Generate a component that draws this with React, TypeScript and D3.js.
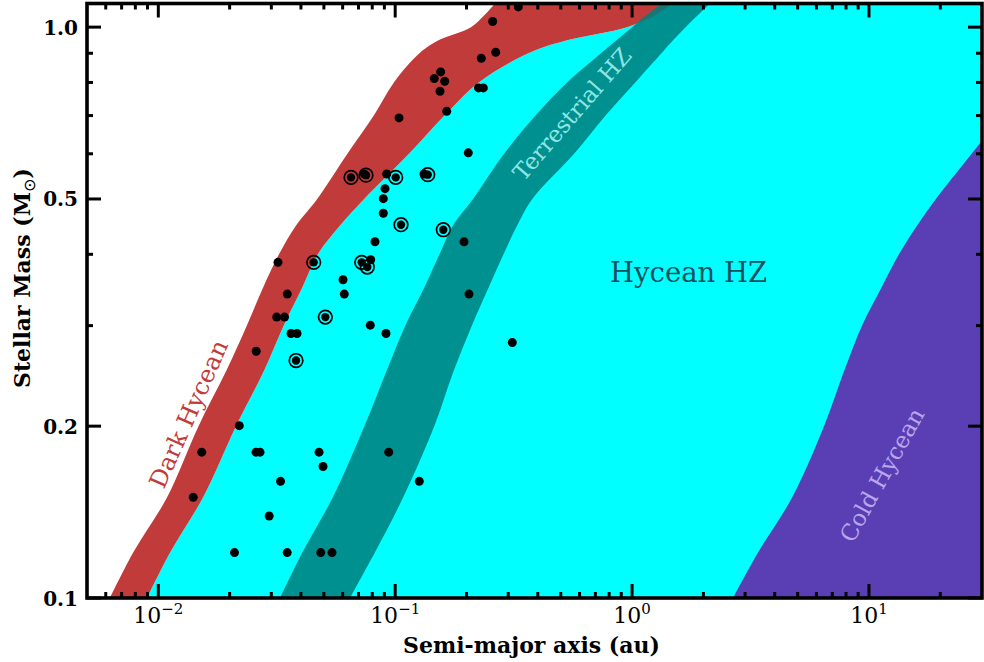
import React from 'react';
import * as d3 from 'd3';

// Stellar mass grid (M_sun) on which the zone boundaries are sampled
const massGrid = [0.1, 0.12, 0.15, 0.2, 0.25, 0.3, 0.35, 0.4, 0.45, 0.5, 0.6, 0.7, 0.8, 0.9, 0.95, 1.0, 1.05, 1.1];
// Semi-major axis (au) of each boundary at the masses above
const darkHyceanInner = [0.00625, 0.00782, 0.01088, 0.01478, 0.01936, 0.02363, 0.0277, 0.03232, 0.03828, 0.04686, 0.06285, 0.08122, 0.09874, 0.1266, 0.1538, 0.2089, 0.2383, 0.2638];
const hyceanInner = [0.00896, 0.0112, 0.01544, 0.02128, 0.02794, 0.03381, 0.04054, 0.04714, 0.05876, 0.07397, 0.1143, 0.1615, 0.2254, 0.3653, 0.5417, 0.9517, 1.262, 1.474];
const terrestrialInner = [0.03264, 0.0405, 0.05446, 0.07412, 0.09199, 0.1102, 0.1327, 0.1538, 0.1758, 0.213, 0.288, 0.391, 0.5313, 0.7392, 0.8636, 1.001, 1.15, 1.337];
const terrestrialOuter = [0.06445, 0.08193, 0.108, 0.1462, 0.1766, 0.2106, 0.248, 0.2866, 0.328, 0.3791, 0.5692, 0.773, 1.031, 1.331, 1.496, 1.682, 1.898, 2.133];
const coldHyceanInner = [2.667, 3.397, 4.737, 6.459, 7.86, 9.345, 11.3, 13.39, 16.03, 19.17, 27.12, 36.1, 46, 57, 63, 70, 77, 85];

// Planets (semi-major axis au, stellar mass M_sun)
const planetA = [0.3309, 0.2579, 0.2656, 0.2309, 0.1556, 0.1462, 0.1618, 0.1546, 0.2247, 0.2355, 0.165, 0.1038, 0.2035, 0.09207, 0.1323, 0.07419, 0.09056, 0.08908, 0.08908, 0.1952, 0.08217, 0.03201, 0.07881, 0.06022, 0.03504, 0.06098, 0.2049, 0.03161, 0.0341, 0.07851, 0.09145, 0.03633, 0.03851, 0.0259, 0.3121, 0.02197, 0.01525, 0.02585, 0.02687, 0.04769, 0.09389, 0.04958, 0.0328, 0.1264, 0.01404, 0.02938, 0.02097, 0.035, 0.04849, 0.0541];
const planetM = [1.085, 1.023, 0.9038, 0.8821, 0.8348, 0.8125, 0.8038, 0.772, 0.7826, 0.7826, 0.7121, 0.6934, 0.6022, 0.5531, 0.5531, 0.5527, 0.5212, 0.5006, 0.4721, 0.4208, 0.4208, 0.3872, 0.3914, 0.361, 0.3407, 0.3407, 0.3407, 0.3105, 0.3105, 0.3006, 0.2906, 0.2906, 0.2906, 0.2705, 0.2803, 0.2004, 0.1801, 0.1801, 0.1801, 0.1801, 0.1801, 0.17, 0.1601, 0.1601, 0.1501, 0.1392, 0.1201, 0.1201, 0.1201, 0.1201];
// Highlighted (circled) planets
const flaggedA = [0.06508, 0.07528, 0.1005, 0.1372, 0.1058, 0.1596, 0.04529, 0.0722, 0.07624, 0.0507, 0.03814];
const flaggedM = [0.5455, 0.5504, 0.5455, 0.5515, 0.4507, 0.4417, 0.3872, 0.3872, 0.38, 0.3105, 0.2606];

const xTickValues = [0.01, 0.1, 1, 10];
const xTickExponents = ['\u22122', '\u22121', '0', '1'];
const yTickValues = [0.1, 0.2, 0.5, 1.0];
const yTickLabels = ['0.1', '0.2', '0.5', '1.0'];

const W = 984;
const H = 662;
const L = 87;
const R = 982;
const T = 3.5;
const B = 598;

const FONT = "'DejaVu Serif', serif";

export default function App() {
  const x = d3.scaleLog().domain([0.005, 30]).range([L, R]);
  const y = d3.scaleLog().domain([0.1, 1.1]).range([B, T]);

  const band = (left: number[] | null, right: number[] | null) =>
    d3
      .area<number>()
      .curve(d3.curveCatmullRom.alpha(0.5))
      .y((m) => y(m))
      .x0((m, i) => (left ? x(left[i]) : L - 40))
      .x1((m, i) => (right ? x(right[i]) : R + 40))(massGrid) as string;

  const majorX = xTickValues;
  const minorX: number[] = [];
  for (let e = -3; e <= 1; e++) {
    for (let k = 2; k <= 9; k++) {
      const v = k * Math.pow(10, e);
      if (v > 0.0051 && v < 29.5) minorX.push(v);
    }
  }
  const minorY: number[] = [];
  for (let k = 2; k <= 9; k++) {
    const v = +(k * 0.1).toFixed(2);
    if (!yTickValues.some((t) => Math.abs(t - v) < 1e-6)) minorY.push(v);
  }

  const majLen = 14;
  const minLen = 6;

  return (
    <svg
      width={W}
      height={H}
      style={{ position: 'absolute', left: 0, top: 0, display: 'block', background: '#fff' }}
      fontFamily={FONT}
    >
      <defs>
        <clipPath id="plot">
          <rect x={L} y={T} width={R - L} height={B - T} />
        </clipPath>
      </defs>
      <g clipPath="url(#plot)">
        <path d={band(hyceanInner, null)} fill="#00ffff" />
        <path d={band(coldHyceanInner, null)} fill="#5a3eb4" />
        <path d={band(darkHyceanInner, hyceanInner)} fill="#c23b3b" />
        <path d={band(terrestrialInner, terrestrialOuter)} fill="#008080" fillOpacity={0.87} />

        {planetA.map((a, i) => (
          <circle key={'p' + i} cx={x(a)} cy={y(planetM[i])} r={4.5} fill="#000" />
        ))}
        {flaggedA.map((a, i) => (
          <g key={'f' + i}>
            <circle cx={x(a)} cy={y(flaggedM[i])} r={4.2} fill="#000" />
            <circle cx={x(a)} cy={y(flaggedM[i])} r={6.8} fill="none" stroke="#000" strokeWidth={1.7} />
          </g>
        ))}
      </g>

      {/* zone labels */}
      <text
        transform="translate(188.5,414) rotate(-66)"
        textAnchor="middle"
        dy="0.35em"
        fontSize={24}
        fill="#c23b3b"
      >
        Dark Hycean
      </text>
      <text
        transform="translate(572,114) rotate(-49)"
        textAnchor="middle"
        dy="0.35em"
        fontSize={23}
        fill="#8ee6e4"
      >
        Terrestrial HZ
      </text>
      <text x={610} y={282} fontSize={27.5} fill="#14505e">
        Hycean HZ
      </text>
      <text
        transform="translate(882,475) rotate(-61)"
        textAnchor="middle"
        dy="0.35em"
        fontSize={23}
        fill="#b9a6ee"
      >
        Cold Hycean
      </text>

      {/* ticks */}
      <g stroke="#000" strokeWidth={3}>
        {majorX.map((v) => (
          <g key={'mx' + v}>
            <line x1={x(v)} x2={x(v)} y1={B} y2={B - majLen} />
            <line x1={x(v)} x2={x(v)} y1={T} y2={T + majLen} />
          </g>
        ))}
        {minorX.map((v) => (
          <g key={'nx' + v}>
            <line x1={x(v)} x2={x(v)} y1={B} y2={B - minLen} />
            <line x1={x(v)} x2={x(v)} y1={T} y2={T + minLen} />
          </g>
        ))}
        {yTickValues.map((v) => (
          <g key={'my' + v}>
            <line x1={L} x2={L + majLen} y1={y(v)} y2={y(v)} />
            <line x1={R} x2={R - majLen} y1={y(v)} y2={y(v)} />
          </g>
        ))}
        {minorY.map((v) => (
          <g key={'ny' + v}>
            <line x1={L} x2={L + minLen} y1={y(v)} y2={y(v)} />
            <line x1={R} x2={R - minLen} y1={y(v)} y2={y(v)} />
          </g>
        ))}
      </g>
      <rect x={L} y={T} width={R - L} height={B - T} fill="none" stroke="#000" strokeWidth={3.6} />

      {/* tick labels */}
      {yTickValues.map((v, i) => (
        <text key={'yl' + v} x={78} y={y(v) + 7.5} textAnchor="end" fontSize={20} fontWeight="bold" fill="#000">
          {yTickLabels[i]}
        </text>
      ))}
      {xTickValues.map((v, i) => (
        <text key={'xl' + v} x={x(v)} y={623} textAnchor="middle" fontSize={22} fill="#000">
          <tspan>10</tspan>
          <tspan dy={-9} fontSize={15}>
            {xTickExponents[i]}
          </tspan>
        </text>
      ))}

      {/* axis titles */}
      <text x={403} y={653} fontSize={22} fontWeight="bold" fill="#000">
        Semi-major axis (au)
      </text>
      <text transform="translate(30,388) rotate(-90)" fontSize={22} fontWeight="bold" fill="#000">
        Stellar Mass (M
        <tspan dy={5} fontSize={16} fontFamily="'DejaVu Sans', sans-serif" fontWeight="normal">
          {'\u2299'}
        </tspan>
        <tspan dy={-5}>)</tspan>
      </text>
    </svg>
  );
}
